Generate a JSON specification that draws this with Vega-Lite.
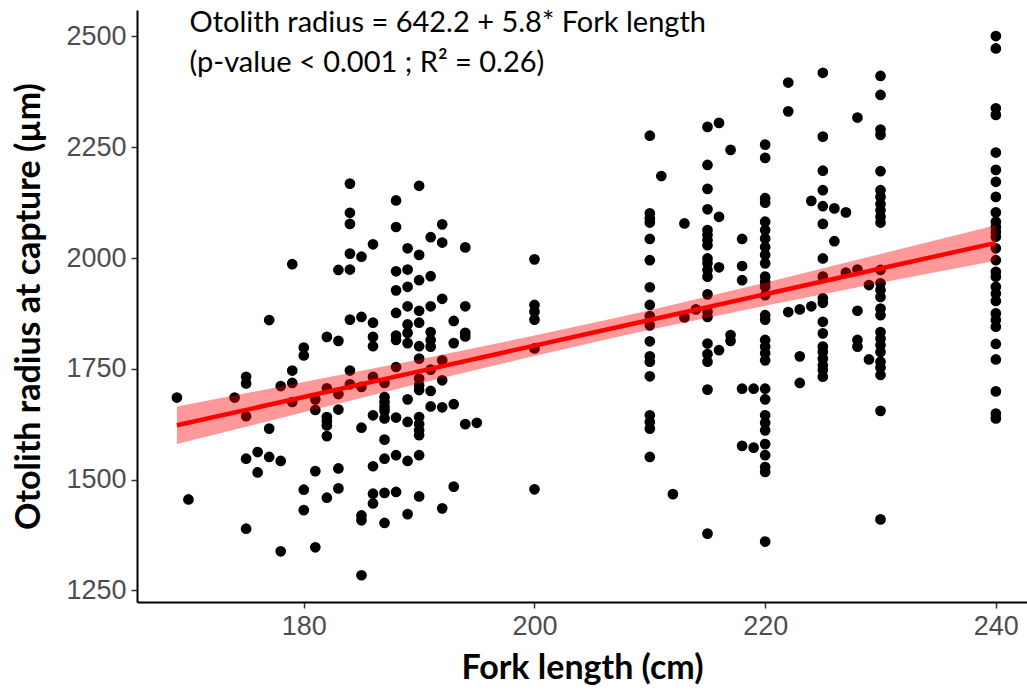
{
  "$schema": "https://vega.github.io/schema/vega-lite/v6.json",
  "width": 890,
  "height": 592,
  "autosize": {"type": "none"},
  "padding": {"left": 137, "top": 10, "right": 0, "bottom": 89},
  "background": "white",
  "config": {
    "view": {"stroke": null},
    "axis": {
      "grid": false,
      "domainColor": "#000000",
      "domainWidth": 2,
      "tickColor": "#333333",
      "tickWidth": 1.5,
      "tickSize": 6,
      "labelColor": "#4D4D4D",
      "labelFont": "Liberation Sans",
      "labelFontSize": 27,
      "labelPadding": 5,
      "titleFont": "Lato",
      "titleFontWeight": "bold",
      "titleFontSize": 34,
      "titleColor": "#000000"
    }
  },
  "datasets": {
    "fish": [
      {"fork": 169, "radius": 1685}, {"fork": 170, "radius": 1455}, {"fork": 174, "radius": 1685},
      {"fork": 175, "radius": 1732}, {"fork": 175, "radius": 1717}, {"fork": 175, "radius": 1643}, {"fork": 175, "radius": 1547}, {"fork": 175, "radius": 1389},
      {"fork": 176, "radius": 1562}, {"fork": 176, "radius": 1516},
      {"fork": 177, "radius": 1860}, {"fork": 177, "radius": 1615}, {"fork": 177, "radius": 1551},
      {"fork": 178, "radius": 1711}, {"fork": 178, "radius": 1542}, {"fork": 178, "radius": 1338},
      {"fork": 179, "radius": 1986}, {"fork": 179, "radius": 1746}, {"fork": 179, "radius": 1718}, {"fork": 179, "radius": 1675},
      {"fork": 180, "radius": 1798}, {"fork": 180, "radius": 1780}, {"fork": 180, "radius": 1477}, {"fork": 180, "radius": 1431},
      {"fork": 181, "radius": 1681}, {"fork": 181, "radius": 1657}, {"fork": 181, "radius": 1519}, {"fork": 181, "radius": 1347},
      {"fork": 182, "radius": 1822}, {"fork": 182, "radius": 1706}, {"fork": 182, "radius": 1641}, {"fork": 182, "radius": 1632}, {"fork": 182, "radius": 1622}, {"fork": 182, "radius": 1598}, {"fork": 182, "radius": 1459},
      {"fork": 183, "radius": 1973}, {"fork": 183, "radius": 1813}, {"fork": 183, "radius": 1693}, {"fork": 183, "radius": 1658}, {"fork": 183, "radius": 1525}, {"fork": 183, "radius": 1480},
      {"fork": 184, "radius": 2168}, {"fork": 184, "radius": 2102}, {"fork": 184, "radius": 2077}, {"fork": 184, "radius": 2010}, {"fork": 184, "radius": 1974}, {"fork": 184, "radius": 1861}, {"fork": 184, "radius": 1746}, {"fork": 184, "radius": 1715},
      {"fork": 185, "radius": 2003}, {"fork": 185, "radius": 1867}, {"fork": 185, "radius": 1709}, {"fork": 185, "radius": 1617}, {"fork": 185, "radius": 1419}, {"fork": 185, "radius": 1408}, {"fork": 185, "radius": 1284},
      {"fork": 186, "radius": 2031}, {"fork": 186, "radius": 1854}, {"fork": 186, "radius": 1822}, {"fork": 186, "radius": 1801}, {"fork": 186, "radius": 1732}, {"fork": 186, "radius": 1645}, {"fork": 186, "radius": 1530}, {"fork": 186, "radius": 1468}, {"fork": 186, "radius": 1446},
      {"fork": 187, "radius": 1718}, {"fork": 187, "radius": 1686}, {"fork": 187, "radius": 1675}, {"fork": 187, "radius": 1664}, {"fork": 187, "radius": 1655}, {"fork": 187, "radius": 1638}, {"fork": 187, "radius": 1590}, {"fork": 187, "radius": 1547}, {"fork": 187, "radius": 1470}, {"fork": 187, "radius": 1402},
      {"fork": 188, "radius": 2130}, {"fork": 188, "radius": 2070}, {"fork": 188, "radius": 1970}, {"fork": 188, "radius": 1927}, {"fork": 188, "radius": 1876}, {"fork": 188, "radius": 1825}, {"fork": 188, "radius": 1815}, {"fork": 188, "radius": 1754}, {"fork": 188, "radius": 1640}, {"fork": 188, "radius": 1555}, {"fork": 188, "radius": 1472},
      {"fork": 189, "radius": 2022}, {"fork": 189, "radius": 1974}, {"fork": 189, "radius": 1935}, {"fork": 189, "radius": 1891}, {"fork": 189, "radius": 1850}, {"fork": 189, "radius": 1831}, {"fork": 189, "radius": 1808}, {"fork": 189, "radius": 1681}, {"fork": 189, "radius": 1630}, {"fork": 189, "radius": 1542}, {"fork": 189, "radius": 1422},
      {"fork": 190, "radius": 2163}, {"fork": 190, "radius": 2007}, {"fork": 190, "radius": 1950}, {"fork": 190, "radius": 1881}, {"fork": 190, "radius": 1854}, {"fork": 190, "radius": 1801}, {"fork": 190, "radius": 1773}, {"fork": 190, "radius": 1728}, {"fork": 190, "radius": 1713}, {"fork": 190, "radius": 1702}, {"fork": 190, "radius": 1641}, {"fork": 190, "radius": 1625}, {"fork": 190, "radius": 1611}, {"fork": 190, "radius": 1600}, {"fork": 190, "radius": 1555}, {"fork": 190, "radius": 1462},
      {"fork": 191, "radius": 2047}, {"fork": 191, "radius": 1959}, {"fork": 191, "radius": 1891}, {"fork": 191, "radius": 1833}, {"fork": 191, "radius": 1815}, {"fork": 191, "radius": 1800}, {"fork": 191, "radius": 1748}, {"fork": 191, "radius": 1700}, {"fork": 191, "radius": 1665},
      {"fork": 192, "radius": 2076}, {"fork": 192, "radius": 2035}, {"fork": 192, "radius": 1908}, {"fork": 192, "radius": 1769}, {"fork": 192, "radius": 1724}, {"fork": 192, "radius": 1663}, {"fork": 192, "radius": 1435},
      {"fork": 193, "radius": 1858}, {"fork": 193, "radius": 1808}, {"fork": 193, "radius": 1670}, {"fork": 193, "radius": 1484},
      {"fork": 194, "radius": 2024}, {"fork": 194, "radius": 1891}, {"fork": 194, "radius": 1831}, {"fork": 194, "radius": 1823}, {"fork": 194, "radius": 1625},
      {"fork": 195, "radius": 1628},
      {"fork": 200, "radius": 1997}, {"fork": 200, "radius": 1894}, {"fork": 200, "radius": 1879}, {"fork": 200, "radius": 1861}, {"fork": 200, "radius": 1796}, {"fork": 200, "radius": 1478},
      {"fork": 210, "radius": 2276}, {"fork": 210, "radius": 2101}, {"fork": 210, "radius": 2089}, {"fork": 210, "radius": 2080}, {"fork": 210, "radius": 2043}, {"fork": 210, "radius": 1995}, {"fork": 210, "radius": 1934}, {"fork": 210, "radius": 1894}, {"fork": 210, "radius": 1869}, {"fork": 210, "radius": 1848}, {"fork": 210, "radius": 1812}, {"fork": 210, "radius": 1778}, {"fork": 210, "radius": 1766}, {"fork": 210, "radius": 1733}, {"fork": 210, "radius": 1645}, {"fork": 210, "radius": 1630}, {"fork": 210, "radius": 1615}, {"fork": 210, "radius": 1551},
      {"fork": 211, "radius": 2185}, {"fork": 212, "radius": 1467},
      {"fork": 213, "radius": 2078}, {"fork": 213, "radius": 1866}, {"fork": 214, "radius": 1884},
      {"fork": 215, "radius": 2296}, {"fork": 215, "radius": 2210}, {"fork": 215, "radius": 2156}, {"fork": 215, "radius": 2110}, {"fork": 215, "radius": 2063}, {"fork": 215, "radius": 2052}, {"fork": 215, "radius": 2040}, {"fork": 215, "radius": 2029}, {"fork": 215, "radius": 1999}, {"fork": 215, "radius": 1988}, {"fork": 215, "radius": 1973}, {"fork": 215, "radius": 1958}, {"fork": 215, "radius": 1918}, {"fork": 215, "radius": 1879}, {"fork": 215, "radius": 1867}, {"fork": 215, "radius": 1807}, {"fork": 215, "radius": 1783}, {"fork": 215, "radius": 1766}, {"fork": 215, "radius": 1703}, {"fork": 215, "radius": 1378},
      {"fork": 216, "radius": 2305}, {"fork": 216, "radius": 2093}, {"fork": 216, "radius": 1979}, {"fork": 216, "radius": 1792},
      {"fork": 217, "radius": 2244}, {"fork": 217, "radius": 1826}, {"fork": 217, "radius": 1813},
      {"fork": 218, "radius": 2043}, {"fork": 218, "radius": 1982}, {"fork": 218, "radius": 1950}, {"fork": 218, "radius": 1705}, {"fork": 218, "radius": 1576},
      {"fork": 219, "radius": 1705}, {"fork": 219, "radius": 1572},
      {"fork": 220, "radius": 2256}, {"fork": 220, "radius": 2226}, {"fork": 220, "radius": 2135}, {"fork": 220, "radius": 2125}, {"fork": 220, "radius": 2082}, {"fork": 220, "radius": 2063}, {"fork": 220, "radius": 2044}, {"fork": 220, "radius": 2025}, {"fork": 220, "radius": 2007}, {"fork": 220, "radius": 1988}, {"fork": 220, "radius": 1958}, {"fork": 220, "radius": 1946}, {"fork": 220, "radius": 1935}, {"fork": 220, "radius": 1916}, {"fork": 220, "radius": 1871}, {"fork": 220, "radius": 1861}, {"fork": 220, "radius": 1815}, {"fork": 220, "radius": 1800}, {"fork": 220, "radius": 1785}, {"fork": 220, "radius": 1769}, {"fork": 220, "radius": 1705}, {"fork": 220, "radius": 1681}, {"fork": 220, "radius": 1645}, {"fork": 220, "radius": 1628}, {"fork": 220, "radius": 1611}, {"fork": 220, "radius": 1580}, {"fork": 220, "radius": 1555}, {"fork": 220, "radius": 1528}, {"fork": 220, "radius": 1517}, {"fork": 220, "radius": 1360},
      {"fork": 222, "radius": 2396}, {"fork": 222, "radius": 2331}, {"fork": 222, "radius": 1878},
      {"fork": 223, "radius": 1884}, {"fork": 223, "radius": 1778}, {"fork": 223, "radius": 1718},
      {"fork": 224, "radius": 2129}, {"fork": 224, "radius": 1891},
      {"fork": 225, "radius": 2418}, {"fork": 225, "radius": 2274}, {"fork": 225, "radius": 2197}, {"fork": 225, "radius": 2153}, {"fork": 225, "radius": 2117}, {"fork": 225, "radius": 2077}, {"fork": 225, "radius": 1999}, {"fork": 225, "radius": 1958}, {"fork": 225, "radius": 1909}, {"fork": 225, "radius": 1899}, {"fork": 225, "radius": 1856}, {"fork": 225, "radius": 1830}, {"fork": 225, "radius": 1800}, {"fork": 225, "radius": 1788}, {"fork": 225, "radius": 1773}, {"fork": 225, "radius": 1758}, {"fork": 225, "radius": 1747}, {"fork": 225, "radius": 1732},
      {"fork": 226, "radius": 2112}, {"fork": 226, "radius": 2038},
      {"fork": 227, "radius": 2103}, {"fork": 227, "radius": 1967},
      {"fork": 228, "radius": 2317}, {"fork": 228, "radius": 1974}, {"fork": 228, "radius": 1881}, {"fork": 228, "radius": 1815}, {"fork": 228, "radius": 1800},
      {"fork": 229, "radius": 1939}, {"fork": 229, "radius": 1771},
      {"fork": 230, "radius": 2411}, {"fork": 230, "radius": 2368}, {"fork": 230, "radius": 2290}, {"fork": 230, "radius": 2278}, {"fork": 230, "radius": 2196}, {"fork": 230, "radius": 2153}, {"fork": 230, "radius": 2138}, {"fork": 230, "radius": 2122}, {"fork": 230, "radius": 2108}, {"fork": 230, "radius": 2093}, {"fork": 230, "radius": 2080}, {"fork": 230, "radius": 1973}, {"fork": 230, "radius": 1943}, {"fork": 230, "radius": 1928}, {"fork": 230, "radius": 1912}, {"fork": 230, "radius": 1886}, {"fork": 230, "radius": 1871}, {"fork": 230, "radius": 1833}, {"fork": 230, "radius": 1818}, {"fork": 230, "radius": 1803}, {"fork": 230, "radius": 1788}, {"fork": 230, "radius": 1766}, {"fork": 230, "radius": 1753}, {"fork": 230, "radius": 1736}, {"fork": 230, "radius": 1655}, {"fork": 230, "radius": 1410},
      {"fork": 240, "radius": 2501}, {"fork": 240, "radius": 2473}, {"fork": 240, "radius": 2338}, {"fork": 240, "radius": 2323}, {"fork": 240, "radius": 2238}, {"fork": 240, "radius": 2199}, {"fork": 240, "radius": 2172}, {"fork": 240, "radius": 2138}, {"fork": 240, "radius": 2103}, {"fork": 240, "radius": 2082}, {"fork": 240, "radius": 2070}, {"fork": 240, "radius": 2059}, {"fork": 240, "radius": 2048}, {"fork": 240, "radius": 2022}, {"fork": 240, "radius": 1995}, {"fork": 240, "radius": 1969}, {"fork": 240, "radius": 1958}, {"fork": 240, "radius": 1935}, {"fork": 240, "radius": 1920}, {"fork": 240, "radius": 1903}, {"fork": 240, "radius": 1875}, {"fork": 240, "radius": 1860}, {"fork": 240, "radius": 1845}, {"fork": 240, "radius": 1806}, {"fork": 240, "radius": 1771}, {"fork": 240, "radius": 1699}, {"fork": 240, "radius": 1649}, {"fork": 240, "radius": 1638}
    ],
    "fit": [
      {"fork": 169, "fit": 1622.4, "lo": 1580, "hi": 1665},
      {"fork": 180, "fit": 1686.2, "lo": 1652, "hi": 1720},
      {"fork": 190, "fit": 1744.2, "lo": 1717, "hi": 1771},
      {"fork": 200, "fit": 1802.2, "lo": 1779, "hi": 1825},
      {"fork": 206, "fit": 1837.0, "lo": 1815, "hi": 1859},
      {"fork": 210, "fit": 1860.2, "lo": 1838, "hi": 1882},
      {"fork": 220, "fit": 1918.2, "lo": 1892, "hi": 1944},
      {"fork": 230, "fit": 1976.2, "lo": 1944, "hi": 2009},
      {"fork": 240, "fit": 2034.2, "lo": 1994, "hi": 2074}
    ]
  },
  "layer": [
    {
      "data": {"name": "fish"},
      "mark": {"type": "circle", "size": 115, "color": "#000000", "opacity": 1},
      "encoding": {
        "x": {
          "field": "fork", "type": "quantitative",
          "scale": {"domain": [165.54, 242.7], "nice": false, "zero": false},
          "axis": {"values": [180, 200, 220, 240], "format": "d", "title": "Fork length (cm)", "titleBaseline": "alphabetic", "titleY": 76}
        },
        "y": {
          "field": "radius", "type": "quantitative",
          "scale": {"domain": [1223.6, 2559.8], "nice": false, "zero": false},
          "axis": {"values": [1250, 1500, 1750, 2000, 2250, 2500], "format": "d", "title": "Otolith radius at capture (µm)", "titleBaseline": "alphabetic", "titleX": -98}
        }
      }
    },
    {
      "data": {"name": "fit"},
      "mark": {"type": "area", "color": "#FF0000", "opacity": 0.4},
      "encoding": {
        "x": {"field": "fork", "type": "quantitative"},
        "y": {"field": "lo", "type": "quantitative"},
        "y2": {"field": "hi"}
      }
    },
    {
      "data": {"name": "fit"},
      "mark": {"type": "line", "color": "#FF0000", "strokeWidth": 4.5},
      "encoding": {
        "x": {"field": "fork", "type": "quantitative"},
        "y": {"field": "fit", "type": "quantitative"}
      }
    },
    {
      "data": {"values": [{}]},
      "mark": {
        "type": "text", "align": "left", "baseline": "alphabetic",
        "font": "Lato", "fontSize": 29, "color": "#000000", "lineHeight": 40
      },
      "encoding": {
        "x": {"datum": 170.1, "type": "quantitative"},
        "y": {"datum": 2510, "type": "quantitative"},
        "text": {"value": ["Otolith radius = 642.2 + 5.8* Fork length", "(p-value < 0.001 ; R² = 0.26)"]}
      }
    }
  ]
}
